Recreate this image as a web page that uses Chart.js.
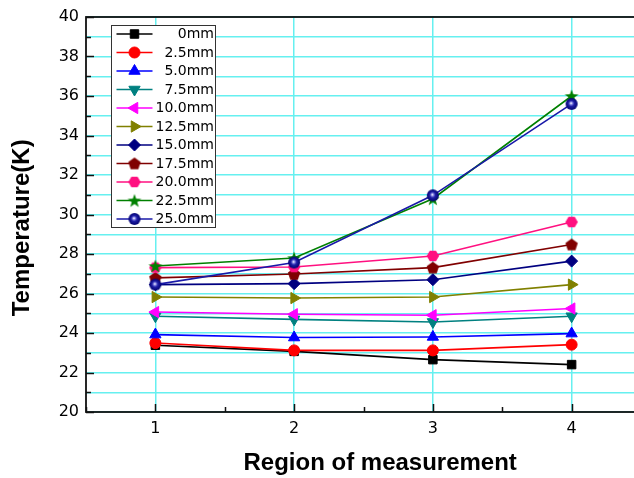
<!DOCTYPE html>
<html><head><meta charset="utf-8">
<script src="https://cdn.jsdelivr.net/npm/chart.js@4/dist/chart.umd.min.js"></script>
<style>
html,body{margin:0;padding:0;background:#fff;overflow:hidden}
#wrap{width:634px;height:478px;overflow:hidden;position:relative;background:#fff}
canvas{display:block}
</style></head>
<body><div id="wrap"><canvas id="c" width="660" height="478"></canvas></div>
<script>
// ---- data ----
const regions = [1, 2, 3, 4];
const seriesLabels = ['0mm','2.5mm','5.0mm','7.5mm','10.0mm','12.5mm','15.0mm','17.5mm','20.0mm','22.5mm','25.0mm'];
const s0mm    = [23.38, 23.07, 22.65, 22.40];
const s2_5mm  = [23.49, 23.12, 23.12, 23.41];
const s5_0mm  = [23.92, 23.77, 23.80, 23.97];
const s7_5mm  = [24.85, 24.69, 24.56, 24.85];
const s10_0mm = [25.06, 24.95, 24.90, 25.24];
const s12_5mm = [25.82, 25.77, 25.82, 26.45];
const s15_0mm = [26.45, 26.50, 26.70, 27.64];
const s17_5mm = [26.79, 26.99, 27.31, 28.48];
const s20_0mm = [27.31, 27.34, 27.90, 29.62];
const s22_5mm = [27.39, 27.80, 30.80, 36.00];
const s25_0mm = [26.45, 27.57, 30.97, 35.60];
const yTickLabels = [20, 22, 24, 26, 28, 30, 32, 34, 36, 38, 40];
const xTickLabels = [1, 2, 3, 4];
const allSeries = [s0mm, s2_5mm, s5_0mm, s7_5mm, s10_0mm, s12_5mm, s15_0mm, s17_5mm, s20_0mm, s22_5mm, s25_0mm];

// ---- custom marker images ----
function mk(size, fn){ const c=document.createElement('canvas'); c.width=c.height=size; const g=c.getContext('2d'); fn(g,size/2); return c; }
function poly(g,cx,cy,n,r,start,color){ g.beginPath(); for(let i=0;i<n;i++){const a=start+i*2*Math.PI/n; const px=cx+r*Math.cos(a), py=cy+r*Math.sin(a); i?g.lineTo(px,py):g.moveTo(px,py);} g.closePath(); g.fillStyle=color; g.fill(); }
const pentagon = mk(16,(g,c)=>poly(g,c,c+0.5,5,6.5,-Math.PI/2,'#800000'));
const hexagon = mk(16,(g,c)=>poly(g,c,c,6,6.2,0,'#FF1080'));
const star = mk(18,(g,c)=>{ g.beginPath(); for(let i=0;i<10;i++){const r=i%2?2.9:7.2; const a=-Math.PI/2+i*Math.PI/5; const px=c+r*Math.cos(a), py=c+0.6+r*Math.sin(a); i?g.lineTo(px,py):g.moveTo(px,py);} g.closePath(); g.fillStyle='#008000'; g.fill(); });
const sphere = mk(16,(g,c)=>{ const gr=g.createRadialGradient(c-0.6,c-0.8,0.2,c,c,6); gr.addColorStop(0,'#ffffff'); gr.addColorStop(0.18,'#9090e8'); gr.addColorStop(0.45,'#2020a8'); gr.addColorStop(1,'#000070'); g.beginPath(); g.arc(c,c,6,0,2*Math.PI); g.fillStyle=gr; g.fill(); });

const styles = [
  {color:'#000000', line:'#000000', ps:'rect', r:6, rot:0},
  {color:'#FF0000', line:'#FF0000', ps:'circle', r:5.5, rot:0},
  {color:'#0000FF', line:'#0000FF', ps:'triangle', r:6.5, rot:0},
  {color:'#008080', line:'#008080', ps:'triangle', r:6.5, rot:180},
  {color:'#FF00FF', line:'#FF00FF', ps:'triangle', r:6.5, rot:-90},
  {color:'#808000', line:'#808000', ps:'triangle', r:6.5, rot:90},
  {color:'#000080', line:'#000080', ps:'rectRot', r:6, rot:0},
  {color:'#800000', line:'#800000', ps:pentagon, r:6, rot:0},
  {color:'#FF1080', line:'#FF1080', ps:hexagon, r:6, rot:0},
  {color:'#008000', line:'#008000', ps:star, r:6, rot:0},
  {color:'#10108a', line:'#1818A8', ps:sphere, r:6, rot:0}
];

const datasets = allSeries.map((arr,i)=>({
  label: seriesLabels[i],
  data: regions.map((r,j)=>({x:r, y:arr[j]})),
  borderColor: styles[i].line,
  backgroundColor: styles[i].color,
  pointBackgroundColor: styles[i].color,
  pointBorderColor: styles[i].color,
  pointBorderWidth: 1,
  pointStyle: styles[i].ps,
  pointRadius: styles[i].r,
  pointRotation: styles[i].rot,
  borderWidth: 1.6,
  tension: 0,
  order: allSeries.length - i
}));

const GRID = '#66f0f0';

const frame = {
  id:'frame',
  afterDatasetsDraw(chart){
    const {ctx, chartArea:a, scales:{x,y}} = chart;
    ctx.save();
    ctx.strokeStyle='#111'; ctx.lineWidth=1.5;
    ctx.beginPath();
    y.ticks.forEach(t=>{ const py=Math.round(y.getPixelForValue(t.value))+0.5; const len = yTickLabels.includes(t.value)?8:5; ctx.moveTo(a.left,py); ctx.lineTo(a.left+len,py); });
    x.ticks.forEach(t=>{ const px=Math.round(x.getPixelForValue(t.value))+0.5; const len = xTickLabels.includes(t.value)?8:5; ctx.moveTo(px,a.bottom); ctx.lineTo(px,a.bottom-len); });
    ctx.stroke();
    ctx.lineWidth=1.8;
    ctx.strokeRect(a.left, a.top, a.right-a.left, a.bottom-a.top);
    ctx.restore();
  },
  afterDraw(chart){
    const ctx = chart.ctx;
    const L=111.5, T=25.5, W=104, H=202;
    ctx.save();
    ctx.fillStyle='#fff'; ctx.fillRect(L,T,W,H);
    ctx.strokeStyle='#333'; ctx.lineWidth=1; ctx.strokeRect(L,T,W,H);
    ctx.font='14px "DejaVu Sans"'; ctx.textAlign='right'; ctx.textBaseline='middle'; 
    chart.data.datasets.forEach((ds,i)=>{
      const cy = 34 + i*18.5;
      ctx.strokeStyle=ds.borderColor; ctx.lineWidth=1.6;
      ctx.beginPath(); ctx.moveTo(116.5,cy); ctx.lineTo(152.5,cy); ctx.stroke();
      ctx.fillStyle=ds.pointBackgroundColor; ctx.strokeStyle=ds.pointBorderColor; ctx.lineWidth=1;
      Chart.helpers.drawPoint(ctx,{pointStyle:ds.pointStyle, rotation:ds.pointRotation, radius:ds.pointRadius, borderWidth:1}, 134.5, cy);
      ctx.fillStyle='#000';
      ctx.fillText(ds.label, 214, cy+0.5);
    });
    ctx.restore();
  }
};

new Chart(document.getElementById('c'), {
  type:'line',
  data:{datasets},
  plugins:[frame],
  options:{
    responsive:false, animation:false,
    layout:{padding:{top:17, right:19, left:0, bottom:0}},
    plugins:{legend:{display:false}, tooltip:{enabled:false}},
    scales:{
      x:{
        type:'linear', min:0.5, max:4.5,
        afterFit(s){ s.height = 66; },
        ticks:{stepSize:0.5, autoSkip:false, maxRotation:0, padding:7, color:'#000',
          font:{family:'DejaVu Sans', size:16},
          callback:v=> xTickLabels.includes(v) ? String(v) : ''},
        grid:{drawTicks:false, color:c=> (c.tick && xTickLabels.includes(c.tick.value)) ? GRID : 'rgba(0,0,0,0)', lineWidth:1.5},
        border:{display:false},
        title:{display:true, text:'     Region of measurement', color:'#000',
          font:{family:'Liberation Sans', size:24, weight:'bold'}, padding:{top:0,bottom:0}}
      },
      y:{
        type:'linear', min:20, max:40,
        afterFit(s){ s.width = 86; },
        ticks:{stepSize:1, autoSkip:false, padding:7, color:'#000',
          font:{family:'DejaVu Sans', size:16},
          callback:v=> yTickLabels.includes(v) ? String(v) : ''},
        grid:{drawTicks:false, color:GRID, lineWidth:1.5},
        border:{display:false},
        title:{display:true, text:'Temperature(K)    ', color:'#000',
          font:{family:'Liberation Sans', size:24, weight:'bold'}, padding:{top:8,bottom:0}}
      }
    }
  }
});
</script>
</body></html>
